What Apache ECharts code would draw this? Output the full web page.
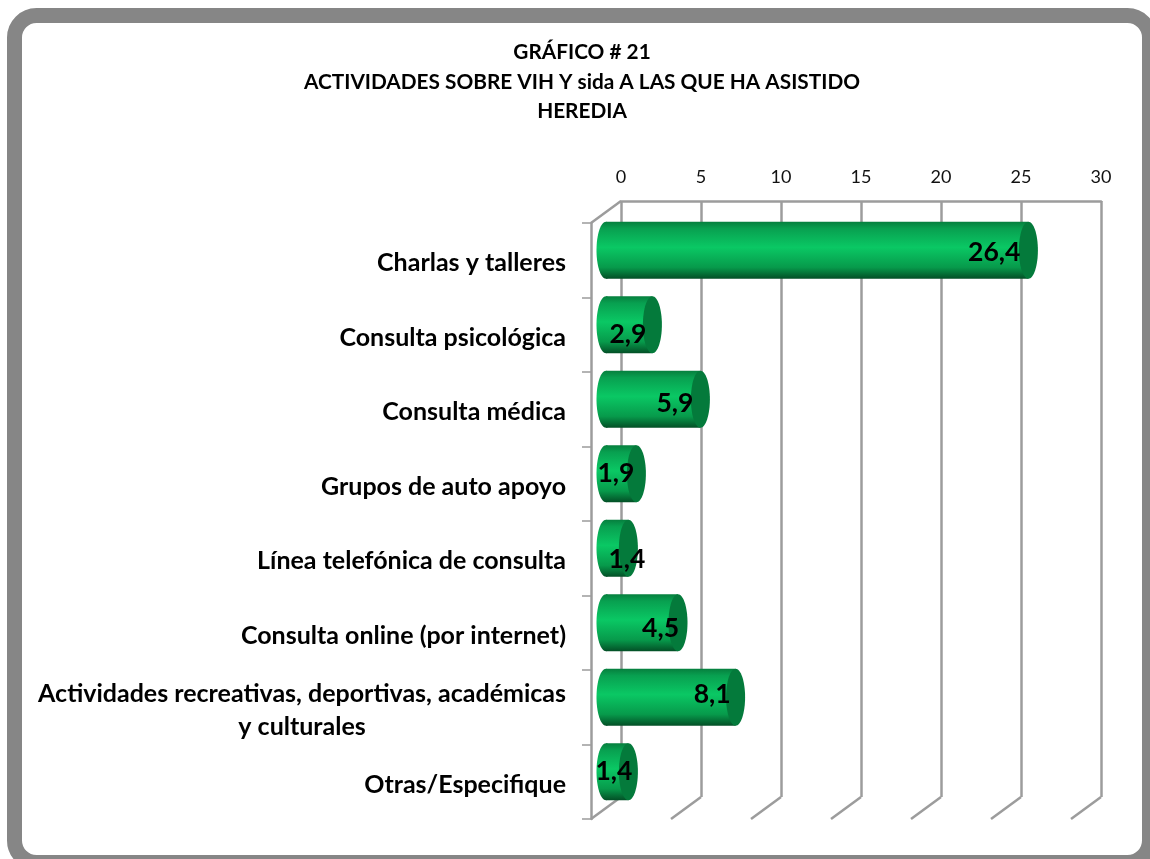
<!DOCTYPE html>
<html>
<head>
<meta charset="utf-8">
<style>
    html, body { margin: 0; padding: 0; background: #fff; }
    #chart { width: 1150px; height: 859px; }
</style>
<script src="https://cdn.jsdelivr.net/npm/echarts@6/dist/echarts.min.js"></script>
</head>
<body>
<div id="chart"></div>
<script>
const categories = [
    'Charlas y talleres',
    'Consulta psicológica',
    'Consulta médica',
    'Grupos de auto apoyo',
    'Línea telefónica de consulta',
    'Consulta online (por internet)',
    'Actividades recreativas, deportivas, académicas\ny culturales',
    'Otras/Especifique'
];
const values = [26.4, 2.9, 5.9, 1.9, 1.4, 4.5, 8.1, 1.4];
const axisTicks = [0, 5, 10, 15, 20, 25, 30];
const titleLines = [
    'GRÁFICO # 21',
    'ACTIVIDADES SOBRE VIH Y sida A LAS QUE HA ASISTIDO',
    'HEREDIA'
];

// hand placed labels in the original, [dx, dy] from the end of each bar
const labelNudge = [[-8, 2], [-6, 10], [-7, 4], [-2, 0], [17, 11], [1, 6], [-5, -3], [4, 0]];

const FONT = 'Lato, sans-serif';
const WALL = '#9c9c9c';
const DEPTH_X = 30, DEPTH_Y = 22;

const chart = echarts.init(document.getElementById('chart'), null, { renderer: 'canvas' });

function renderBar(params, api) {
    const i = api.value(1);
    const v = api.value(0);
    const start = api.coord([0, i]);
    const end = api.coord([v, i]);
    const band = api.size([0, 1])[1];
    const h = band * 0.765;
    // bars sit half way between the front plane and the back wall
    const dx = DEPTH_X / 2, dy = -DEPTH_Y / 2 + 1;
    const cy = start[1] + dy;
    const x0 = start[0] + dx, x1 = end[0] + dx;
    const rx = 9.5, ry = h / 2;
    const body = new echarts.graphic.LinearGradient(0, 0, 0, 1, [
        { offset: 0, color: '#067f3e' },
        { offset: 0.12, color: '#08a050' },
        { offset: 0.45, color: '#0ac864' },
        { offset: 0.8, color: '#079a4b' },
        { offset: 1, color: '#034f26' }
    ]);
    const nudge = labelNudge[params.dataIndex];
    return {
        type: 'group',
        children: [
            { type: 'ellipse', shape: { cx: x0, cy: cy, rx: rx, ry: ry }, style: { fill: body } },
            { type: 'rect', shape: { x: x0, y: cy - ry, width: x1 - x0, height: h }, style: { fill: body } },
            { type: 'ellipse', shape: { cx: x1, cy: cy, rx: rx, ry: ry }, style: { fill: '#047a3b' } },
            {
                type: 'text',
                style: {
                    text: String(v).replace('.', ','),
                    x: x1 + nudge[0],
                    y: cy + nudge[1],
                    align: 'right',
                    verticalAlign: 'middle',
                    font: 'bold 26.5px ' + FONT,
                    fill: '#000'
                }
            }
        ]
    };
}

// floor lines, running from the back wall towards the front plane
function renderFloor(params, api) {
    const p = api.coord([api.value(0), categories.length - 1]);
    const band = api.size([0, 1])[1];
    const y = p[1] + band / 2;
    return {
        type: 'line',
        shape: { x1: p[0], y1: y, x2: p[0] + DEPTH_X, y2: y - DEPTH_Y },
        style: { stroke: WALL, lineWidth: 2.5 }
    };
}

// corner between the side wall and the back wall
function renderCorner(params, api) {
    const p = api.coord([0, 0]);
    const band = api.size([0, 1])[1];
    const y = p[1] - band / 2;
    return {
        type: 'line',
        shape: { x1: p[0], y1: y, x2: p[0] + DEPTH_X, y2: y - DEPTH_Y },
        style: { stroke: WALL, lineWidth: 2.5 }
    };
}

const option = {
    animation: false,
    backgroundColor: '#fff',
    title: {
        text: titleLines.join('\n'),
        left: 577,
        top: 33,
        textAlign: 'center',
        textStyle: { fontFamily: FONT, fontWeight: 'bold', fontSize: 20.8, lineHeight: 29.5, color: '#000' }
    },
    graphic: [{
        type: 'rect',
        silent: true,
        z: 100,
        shape: { x: 14.5, y: 15.5, width: 1135, height: 847, r: 22 },
        style: { fill: 'none', stroke: '#868686', lineWidth: 15 }
    }],
    grid: [
        { left: 621, top: 201, width: 480, height: 596 }, // back wall
        { left: 591, top: 223, width: 480, height: 596 }  // front plane
    ],
    xAxis: [
        {
            gridIndex: 0,
            type: 'value',
            position: 'top',
            min: axisTicks[0],
            max: axisTicks[axisTicks.length - 1],
            interval: 5,
            axisLine: { show: true, lineStyle: { color: WALL, width: 2.5 } },
            axisTick: { show: false },
            axisLabel: { margin: 15, fontFamily: FONT, fontSize: 18, color: '#111' },
            splitLine: { show: true, lineStyle: { color: WALL, width: 2.5 } }
        },
        {
            gridIndex: 1,
            type: 'value',
            min: axisTicks[0],
            max: axisTicks[axisTicks.length - 1],
            show: false
        }
    ],
    yAxis: [
        { gridIndex: 0, type: 'category', inverse: true, data: categories, show: false },
        {
            gridIndex: 1,
            type: 'category',
            inverse: true,
            data: categories,
            axisLine: { show: true, lineStyle: { color: WALL, width: 2.5 } },
            axisTick: { show: true, alignWithLabel: false, length: 9, lineStyle: { color: WALL, width: 1.5 } },
            axisLabel: {
                interval: 0,
                margin: 25,
                padding: [6, 0, 0, 0],
                formatter: (s) => s.split('\n').map(t => `{c|${t}}`).join('\n'),
                rich: {
                    c: { fontFamily: FONT, fontWeight: 'bold', fontSize: 25, lineHeight: 33, color: '#000', align: 'center' }
                }
            }
        }
    ],
    series: [
        {
            type: 'custom',
            xAxisIndex: 1,
            yAxisIndex: 1,
            silent: true,
            z: 1,
            renderItem: renderFloor,
            data: axisTicks.map(t => [t])
        },
        {
            type: 'custom',
            xAxisIndex: 1,
            yAxisIndex: 1,
            silent: true,
            z: 1,
            renderItem: renderCorner,
            data: [[0]]
        },
        {
            type: 'custom',
            xAxisIndex: 1,
            yAxisIndex: 1,
            silent: true,
            z: 5,
            renderItem: renderBar,
            encode: { x: 0, y: 1 },
            data: values.map((v, i) => [v, i])
        }
    ]
};

chart.setOption(option);
</script>
</body>
</html>
